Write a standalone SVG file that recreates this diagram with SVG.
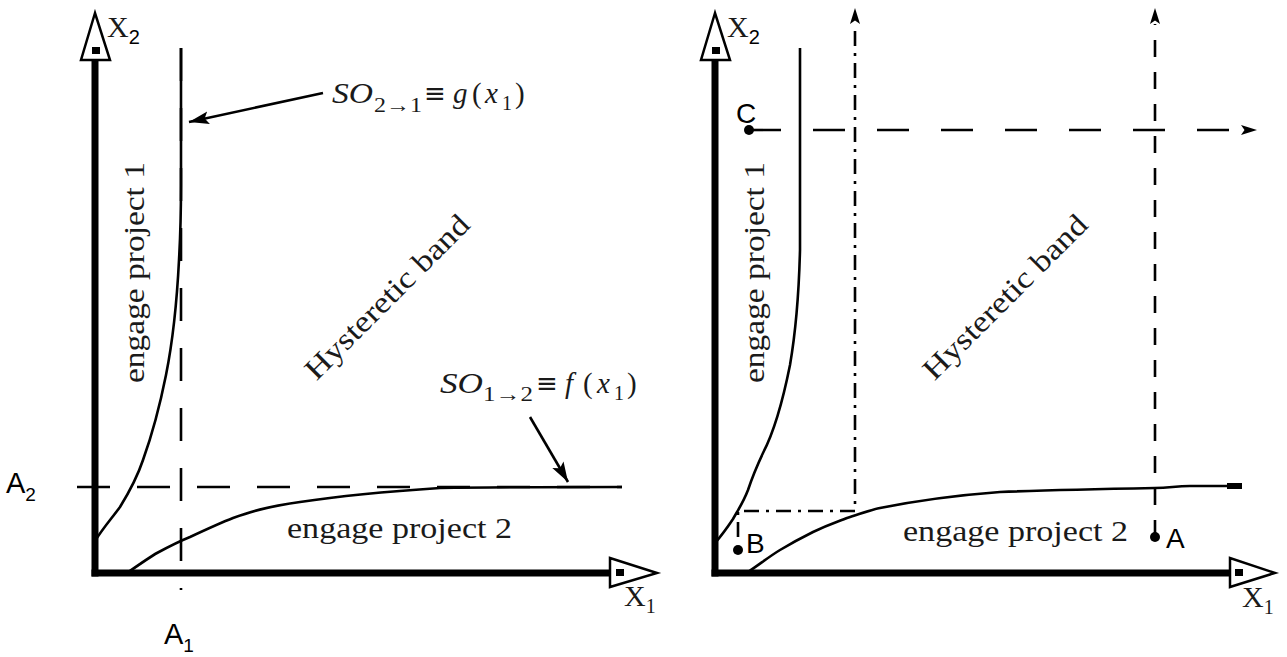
<svg xmlns="http://www.w3.org/2000/svg" width="1287" height="657" viewBox="0 0 1287 657">
<style>
.axis{stroke:#000;stroke-width:7;fill:none}
.head{fill:#fff;stroke:#000;stroke-width:2.5;stroke-linejoin:miter}
.curve{fill:none;stroke:#000;stroke-width:2.6;stroke-linejoin:round}
.dash{fill:none;stroke:#000;stroke-width:2.6;stroke-dasharray:33 27}
.dashC{fill:none;stroke:#000;stroke-width:2.6;stroke-dasharray:32 32}
.dashA{fill:none;stroke:#000;stroke-width:2.6;stroke-dasharray:17 15}
.dashdot{fill:none;stroke:#000;stroke-width:2.6;stroke-dasharray:15 7 3 7}
.ptr{fill:none;stroke:#000;stroke-width:2.6}
.cm{font-family:"Liberation Serif","DejaVu Serif",serif;fill:#1a1a1a}
.sans{font-family:"Liberation Sans",Arial,sans-serif;fill:#000}
.eq{font-family:"DejaVu Sans",sans-serif;font-style:normal}
.it{font-style:italic}
</style>
<defs>
<marker id="big" markerUnits="userSpaceOnUse" markerWidth="24" markerHeight="16" refX="20" refY="8" orient="auto"><path d="M0,1.5 L20,8 L0,14.5 L4,8 Z" fill="#000" stroke="none"/></marker>
<marker id="stealth" markerUnits="userSpaceOnUse" markerWidth="20" markerHeight="14" refX="16" refY="7" orient="auto"><path d="M0,2 L16,7 L0,12 L3.5,7 Z" fill="#000" stroke="none"/></marker>
</defs>
<rect width="1287" height="657" fill="#fff"/>

<g id="left-axes">
<line class="axis" x1="95" y1="576.5" x2="95" y2="58"/>
<line class="axis" x1="91.5" y1="573" x2="611" y2="573"/>
<polygon class="head" points="95,13 81,60 110,60"/>
<rect x="92" y="47" width="8" height="7" fill="#000"/>
<polygon class="head" points="610,558 610,587 657,573"/>
<rect x="616" y="569" width="8" height="7" fill="#000"/>
<text class="cm" x="107" y="37" font-size="30">X<tspan class="sans" font-size="20" dy="7">2</tspan></text>
<text class="cm" x="624" y="606" font-size="30">X<tspan font-size="20" dy="7">1</tspan></text>
<text class="sans" x="6" y="493" font-size="29">A<tspan font-size="19" dy="8">2</tspan></text>
<text class="sans" x="164" y="644" font-size="29">A<tspan font-size="19" dy="8">1</tspan></text>
</g>

<g id="left-curves">
<path class="curve" d="M95,541 C103,528 112,518 120,507 C128,494 137,478 143,460 C152,435 160,405 166,375 C173,340 177,300 179,260 C181,225 181,200 181,185 L181,48"/>
<path class="curve" d="M127,573 C140,564 150,557 157,553 C170,546 180,541 190,537 C205,530 220,523 233,518 C250,512 265,507 300,502 C340,496 380,492 440,488 C500,487 560,487 622,487"/>
</g>

<g id="left-labels">
<text class="cm" x="144" y="383" font-size="30" transform="rotate(-90 144 383)" textLength="221" lengthAdjust="spacingAndGlyphs">engage project 1</text>
<text class="cm" x="287" y="538" font-size="30" textLength="225" lengthAdjust="spacingAndGlyphs">engage project 2</text>
<text class="cm" x="394" y="304" font-size="30" text-anchor="middle" transform="rotate(-45 394 304)" textLength="219" lengthAdjust="spacingAndGlyphs">Hysteretic band</text>
<text class="cm" y="103" font-size="29"><tspan class="it" x="332" textLength="41" lengthAdjust="spacingAndGlyphs">SO</tspan><tspan x="374" y="112" font-size="20" textLength="48" lengthAdjust="spacingAndGlyphs">2→1</tspan><tspan class="eq" x="424" y="102" font-size="26">≡</tspan><tspan class="it" x="453" y="103">g</tspan><tspan x="472">(</tspan><tspan class="it" x="485">x</tspan><tspan x="502" y="110" font-size="20">1</tspan><tspan x="515" y="103">)</tspan></text>
<text class="cm" y="393" font-size="29"><tspan class="it" x="440" textLength="43" lengthAdjust="spacingAndGlyphs">SO</tspan><tspan x="483" y="401" font-size="20" textLength="50" lengthAdjust="spacingAndGlyphs">1→2</tspan><tspan class="eq" x="536" y="392" font-size="26">≡</tspan><tspan class="it" x="565" y="393">f</tspan><tspan x="583">(</tspan><tspan class="it" x="597">x</tspan><tspan x="614" y="400" font-size="20">1</tspan><tspan x="627" y="393">)</tspan></text>
</g>

<g id="right-axes">
<line class="axis" x1="715" y1="576.5" x2="715" y2="58"/>
<line class="axis" x1="711.5" y1="573" x2="1231" y2="573"/>
<polygon class="head" points="715,13 701,60 730,60"/>
<rect x="712" y="47" width="8" height="7" fill="#000"/>
<polygon class="head" points="1230,558 1230,587 1275,573"/>
<rect x="1235" y="569" width="8" height="7" fill="#000"/>
<text class="cm" x="727" y="37" font-size="30">X<tspan class="sans" font-size="20" dy="7">2</tspan></text>
<text class="cm" x="1242" y="607" font-size="30">X<tspan font-size="20" dy="7">1</tspan></text>
</g>

<g id="right-curves">
<path class="curve" d="M800,48 L800,250 C799,290 796,330 790,365 C783,400 775,430 763,453 C755,470 752,478 748,490 C743,503 738,510 733,519 C727,528 722,535 715,543"/>
<path class="curve" d="M748,572 C760,564 770,556 780,550 C795,541 805,536 813,532 C830,524 840,521 847,518 C860,514 870,510 880,508 C920,500 960,495 1000,492 C1050,490 1100,489 1155,488 C1170,488 1175,486 1190,486 L1230,486"/>
<rect x="1227" y="483" width="15" height="6" fill="#000"/>
</g>

<g id="connectors">
<line class="dash" x1="181" y1="48" x2="181" y2="590"/>
<line class="dash" x1="77" y1="487" x2="622" y2="487"/>
<line class="ptr" x1="323" y1="93" x2="189" y2="122" marker-end="url(#big)"/>
<line class="ptr" x1="530" y1="417" x2="568" y2="482" marker-end="url(#big)"/>
<line class="dashC" x1="749" y1="130" x2="1241" y2="130"/>
<path d="M1241,130 L1257,130" stroke="none" marker-end="url(#stealth)"/>
<line class="dashA" x1="1155" y1="537" x2="1155" y2="24"/>
<path d="M1155,24 L1155,8" stroke="none" marker-end="url(#stealth)"/>
<path class="dashdot" d="M738,537 V511 H855 V24"/>
<path d="M855,24 L855,8" stroke="none" marker-end="url(#stealth)"/>
</g>

<g id="right-labels">
<text class="cm" x="764" y="383" font-size="30" transform="rotate(-90 764 383)" textLength="221" lengthAdjust="spacingAndGlyphs">engage project 1</text>
<text class="cm" x="903" y="541" font-size="30" textLength="225" lengthAdjust="spacingAndGlyphs">engage project 2</text>
<text class="cm" x="1012" y="304" font-size="30" text-anchor="middle" transform="rotate(-45 1012 304)" textLength="219" lengthAdjust="spacingAndGlyphs">Hysteretic band</text>
</g>

<g id="point-C"><circle cx="749" cy="130" r="5"/><text class="sans" x="736" y="123" font-size="28">C</text></g>
<g id="point-B"><circle cx="738" cy="550" r="5"/><text class="sans" x="746" y="553" font-size="28">B</text></g>
<g id="point-A"><circle cx="1155" cy="537" r="5"/><text class="sans" x="1166" y="548" font-size="28">A</text></g>
</svg>
